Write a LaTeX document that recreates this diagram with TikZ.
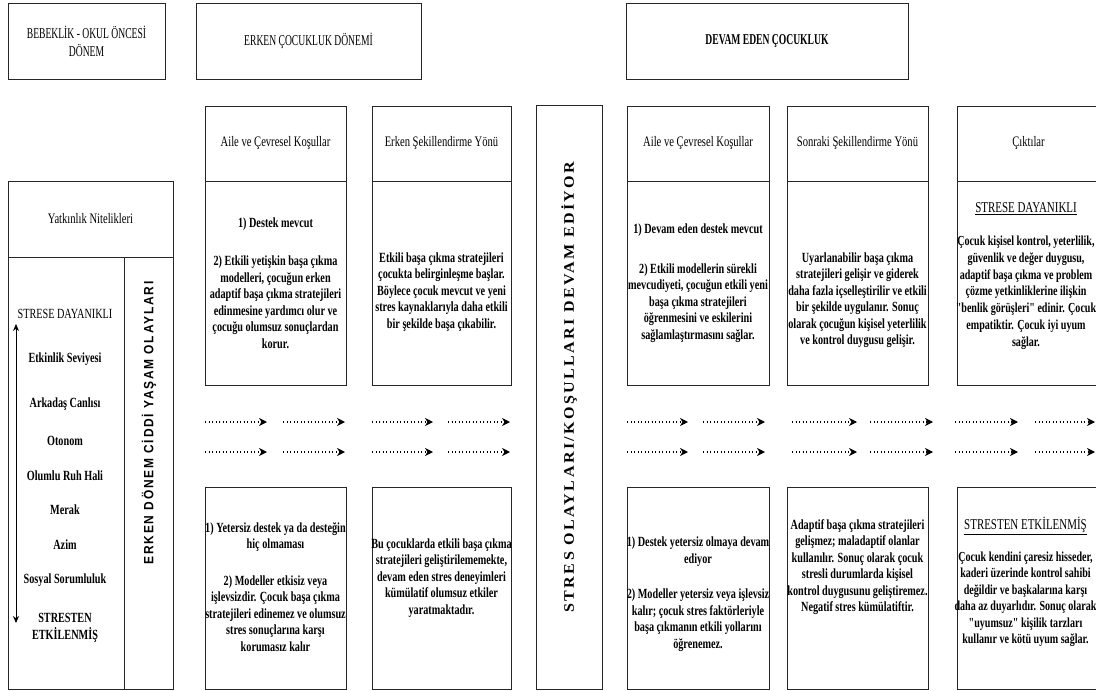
\documentclass[tikz,border=0pt]{standalone}
\usepackage{fontspec}
\usepackage{graphicx}
\setmainfont{Liberation Serif}[FakeStretch=0.73, Ligatures=TeXOff]
\newfontfamily\headfont{Liberation Serif}[FakeStretch=0.64]
\newfontfamily\sidesans{Liberation Sans}[LetterSpace=15]
\newfontfamily\sideserif{Liberation Serif}[LetterSpace=15]
\usetikzlibrary{arrows.meta}

\tikzset{
  panel/.style={draw=black!85, line width=0.9pt, inner sep=0pt},
  bodytext/.style={align=center, inner sep=0pt, font=\fontsize{14}{16.5}\selectfont\bfseries},
  colhead/.style={align=center, inner sep=0pt, font=\fontsize{14.5}{17}\selectfont},
  tophead/.style={align=center, inner sep=0pt, font=\headfont\fontsize{15}{18}\selectfont},
  trait/.style={align=center, inner sep=0pt, font=\fontsize{14}{17}\selectfont\bfseries},
  flow/.style={line width=1.1pt, dash pattern=on 1.2pt off 2.3pt,
               -{Stealth[length=8pt,width=8pt,inset=2.5pt]}},
  rangearrow/.style={line width=0.9pt,
               {Stealth[length=7pt,width=6pt]}-{Stealth[length=7pt,width=6pt]}},
}

\begin{document}
\begin{tikzpicture}[x=1pt,y=-1pt]
\useasboundingbox (0,0) rectangle (1096,691);
\fill[white] (0,0) rectangle (1096,691);

% period headers
\node[panel, minimum width=157pt, minimum height=76pt] (hInf) at (86.5,41) {};
\node[panel, minimum width=225pt, minimum height=76pt] (hEarly) at (308.5,41) {};
\node[panel, minimum width=282pt, minimum height=76pt] (hLater) at (767,41) {};
\node[tophead] (tInf) at (hInf) {BEBEKLİK - OKUL ÖNCESİ\\DÖNEM};
\node[tophead] (tEarly) at (hEarly) {ERKEN ÇOCUKLUK DÖNEMİ};
\node[tophead, font=\headfont\fontsize{15}{18}\selectfont\bfseries] (tLater) at (hLater) {DEVAM EDEN ÇOCUKLUK};

% disposition column
\node[panel, minimum width=165pt, minimum height=76pt] (aHead) at (90.5,219) {};
\node[panel, minimum width=116pt, minimum height=432pt] (aList) at (66,473) {};
\node[panel, minimum width=49pt, minimum height=432pt] (aSide) at (148.5,473) {};
\node[colhead] (tDisp) at (aHead) {Yatkınlık Nitelikleri};

\node[trait, font=\fontsize{14}{17}\selectfont] (l0) at (65,314) {STRESE DAYANIKLI};
\node[trait] (l1) at (65,359) {Etkinlik Seviyesi};
\node[trait] (l2) at (65,404) {Arkadaş Canlısı};
\node[trait] (l3) at (65,441) {Otonom};
\node[trait] (l4) at (65,476) {Olumlu Ruh Hali};
\node[trait] (l5) at (65,510) {Merak};
\node[trait] (l6) at (65,545) {Azim};
\node[trait] (l7) at (65,580) {Sosyal Sorumluluk};
\node[trait] (l8) at (65,628) {STRESTEN\\ETKİLENMİŞ};

\coordinate (rTop) at (16,324);
\coordinate (rBot) at (16,623);
\draw[rangearrow] (rTop) -- (rBot);

\node[rotate=90, inner sep=0pt] (vEarly) at (149,423)
  {\resizebox{283pt}{11.5pt}{\sidesans\bfseries ERKEN DÖNEM CİDDİ YAŞAM OLAYLARI}};

% stress band
\node[panel, minimum width=66pt, minimum height=584pt] (mid) at (569,397) {};
\node[rotate=90, inner sep=0pt] (vStress) at (569,387)
  {\resizebox{451pt}{12.5pt}{\sideserif\bfseries STRES OLAYLARI/KOŞULLARI DEVAM EDİYOR}};

% column frames
\node[panel, minimum width=141pt, minimum height=75pt] (bHead) at (275.5,143.5) {};
\node[panel, minimum width=141pt, minimum height=204pt] (bTop) at (275.5,283) {};
\node[panel, minimum width=141pt, minimum height=202pt] (bBot) at (275.5,588) {};
\node[panel, minimum width=139pt, minimum height=75pt] (cHead) at (441.5,143.5) {};
\node[panel, minimum width=139pt, minimum height=204pt] (cTop) at (441.5,283) {};
\node[panel, minimum width=139pt, minimum height=202pt] (cBot) at (441.5,588) {};
\node[panel, minimum width=142pt, minimum height=75pt] (dHead) at (698,143.5) {};
\node[panel, minimum width=142pt, minimum height=204pt] (dTop) at (698,283) {};
\node[panel, minimum width=142pt, minimum height=202pt] (dBot) at (698,588) {};
\node[panel, minimum width=141pt, minimum height=75pt] (eHead) at (857.5,143.5) {};
\node[panel, minimum width=141pt, minimum height=204pt] (eTop) at (857.5,283) {};
\node[panel, minimum width=141pt, minimum height=202pt] (eBot) at (857.5,588) {};
\node[panel, minimum width=143pt, minimum height=75pt] (fHead) at (1028.5,143.5) {};
\node[panel, minimum width=143pt, minimum height=204pt] (fTop) at (1028.5,283) {};
\node[panel, minimum width=143pt, minimum height=202pt] (fBot) at (1028.5,588) {};

% column titles
\node[colhead] (tbHead) at (bHead) {Aile ve Çevresel Koşullar};
\node[colhead] (tcHead) at (cHead) {Erken Şekillendirme Yönü};
\node[colhead] (tdHead) at (dHead) {Aile ve Çevresel Koşullar};
\node[colhead] (teHead) at (eHead) {Sonraki Şekillendirme Yönü};
\node[colhead] (tfHead) at (fHead) {Çıktılar};

% upper texts
\node[bodytext] (tbTop) at (275.5,283) {1) Destek mevcut\\[22pt]
  2) Etkili yetişkin başa çıkma\\modelleri, çocuğun erken\\adaptif başa çıkma stratejileri\\
  edinmesine yardımcı olur ve\\çocuğu olumsuz sonuçlardan\\korur.};
\node[bodytext] (tcTop) at (441.5,292) {Etkili başa çıkma stratejileri\\çocukta belirginleşme başlar.\\
  Böylece çocuk mevcut ve yeni\\stres kaynaklarıyla daha etkili\\bir şekilde başa çıkabilir.};
\node[bodytext] (tdTop) at (698,283) {1) Devam eden destek mevcut\\[23pt]
  2) Etkili modellerin sürekli\\mevcudiyeti, çocuğun etkili yeni\\başa çıkma stratejileri\\
  öğrenmesini ve eskilerini\\sağlamlaştırmasını sağlar.};
\node[bodytext] (teTop) at (857.5,300) {Uyarlanabilir başa çıkma\\stratejileri gelişir ve giderek\\
  daha fazla içselleştirilir ve etkili\\bir şekilde uygulanır. Sonuç\\
  olarak çocuğun kişisel yeterlilik\\ve kontrol duygusu gelişir.};
\node[bodytext, font=\fontsize{13.8}{16.8}\selectfont\bfseries] (tfTop) at (1026,276)
  {{\mdseries\fontsize{15}{16.5}\selectfont\underline{STRESE DAYANIKLI}}\\[16pt]
  Çocuk kişisel kontrol, yeterlilik,\\güvenlik ve değer duygusu,\\adaptif başa çıkma ve problem\\
  çözme yetkinliklerine ilişkin\\"benlik görüşleri" edinir. Çocuk\\empatiktir. Çocuk iyi uyum\\sağlar.};

% flow arrows between the two rows
\foreach \ya [count=\r] in {422,452} {
  \foreach \xa/\xb [count=\k] in {205/267, 283/345, 372/433, 448/510, 627/688,
                                  703/765, 792/857, 870/933, 955/1018, 1035/1095} {
    \coordinate (f\r-\k-s) at (\xa,\ya);
    \coordinate (f\r-\k-e) at (\xb,\ya);
    \draw[flow] (f\r-\k-s) -- (f\r-\k-e);
  }
}

% lower texts
\node[bodytext] (tbBot) at (275.5,587) {1) Yetersiz destek ya da desteğin\\hiç olmaması\\[20pt]
  2) Modeller etkisiz veya\\işlevsizdir. Çocuk başa çıkma\\stratejileri edinemez ve olumsuz\\
  stres sonuçlarına karşı\\korumasız kalır};
\node[bodytext] (tcBot) at (441.5,578) {Bu çocuklarda etkili başa çıkma\\stratejileri geliştirilememekte,\\
  devam eden stres deneyimleri\\kümülatif olumsuz etkiler\\yaratmaktadır.};
\node[bodytext] (tdBot) at (698,594) {1) Destek yetersiz olmaya devam\\ediyor\\[19pt]
  2) Modeller yetersiz veya işlevsiz\\kalır; çocuk stres faktörleriyle\\
  başa çıkmanın etkili yollarını\\öğrenemez.};
\node[bodytext] (teBot) at (857.5,567) {Adaptif başa çıkma stratejileri\\gelişmez; maladaptif olanlar\\
  kullanılır. Sonuç olarak çocuk\\stresli durumlarda kişisel\\
  kontrol duygusunu geliştiremez.\\Negatif stres kümülatiftir.};
\node[bodytext, font=\fontsize{13.8}{16.5}\selectfont\bfseries] (tfBot) at (1025.5,582)
  {{\mdseries\fontsize{15}{16.5}\selectfont\underline{STRESTEN ETKİLENMİŞ}}\\[15pt]
  Çocuk kendini çaresiz hisseder,\\kaderi üzerinde kontrol sahibi\\değildir ve başkalarına karşı\\
  daha az duyarlıdır. Sonuç olarak\\"uyumsuz" kişilik tarzları\\kullanır ve kötü uyum sağlar.};
\end{tikzpicture}
\end{document}
